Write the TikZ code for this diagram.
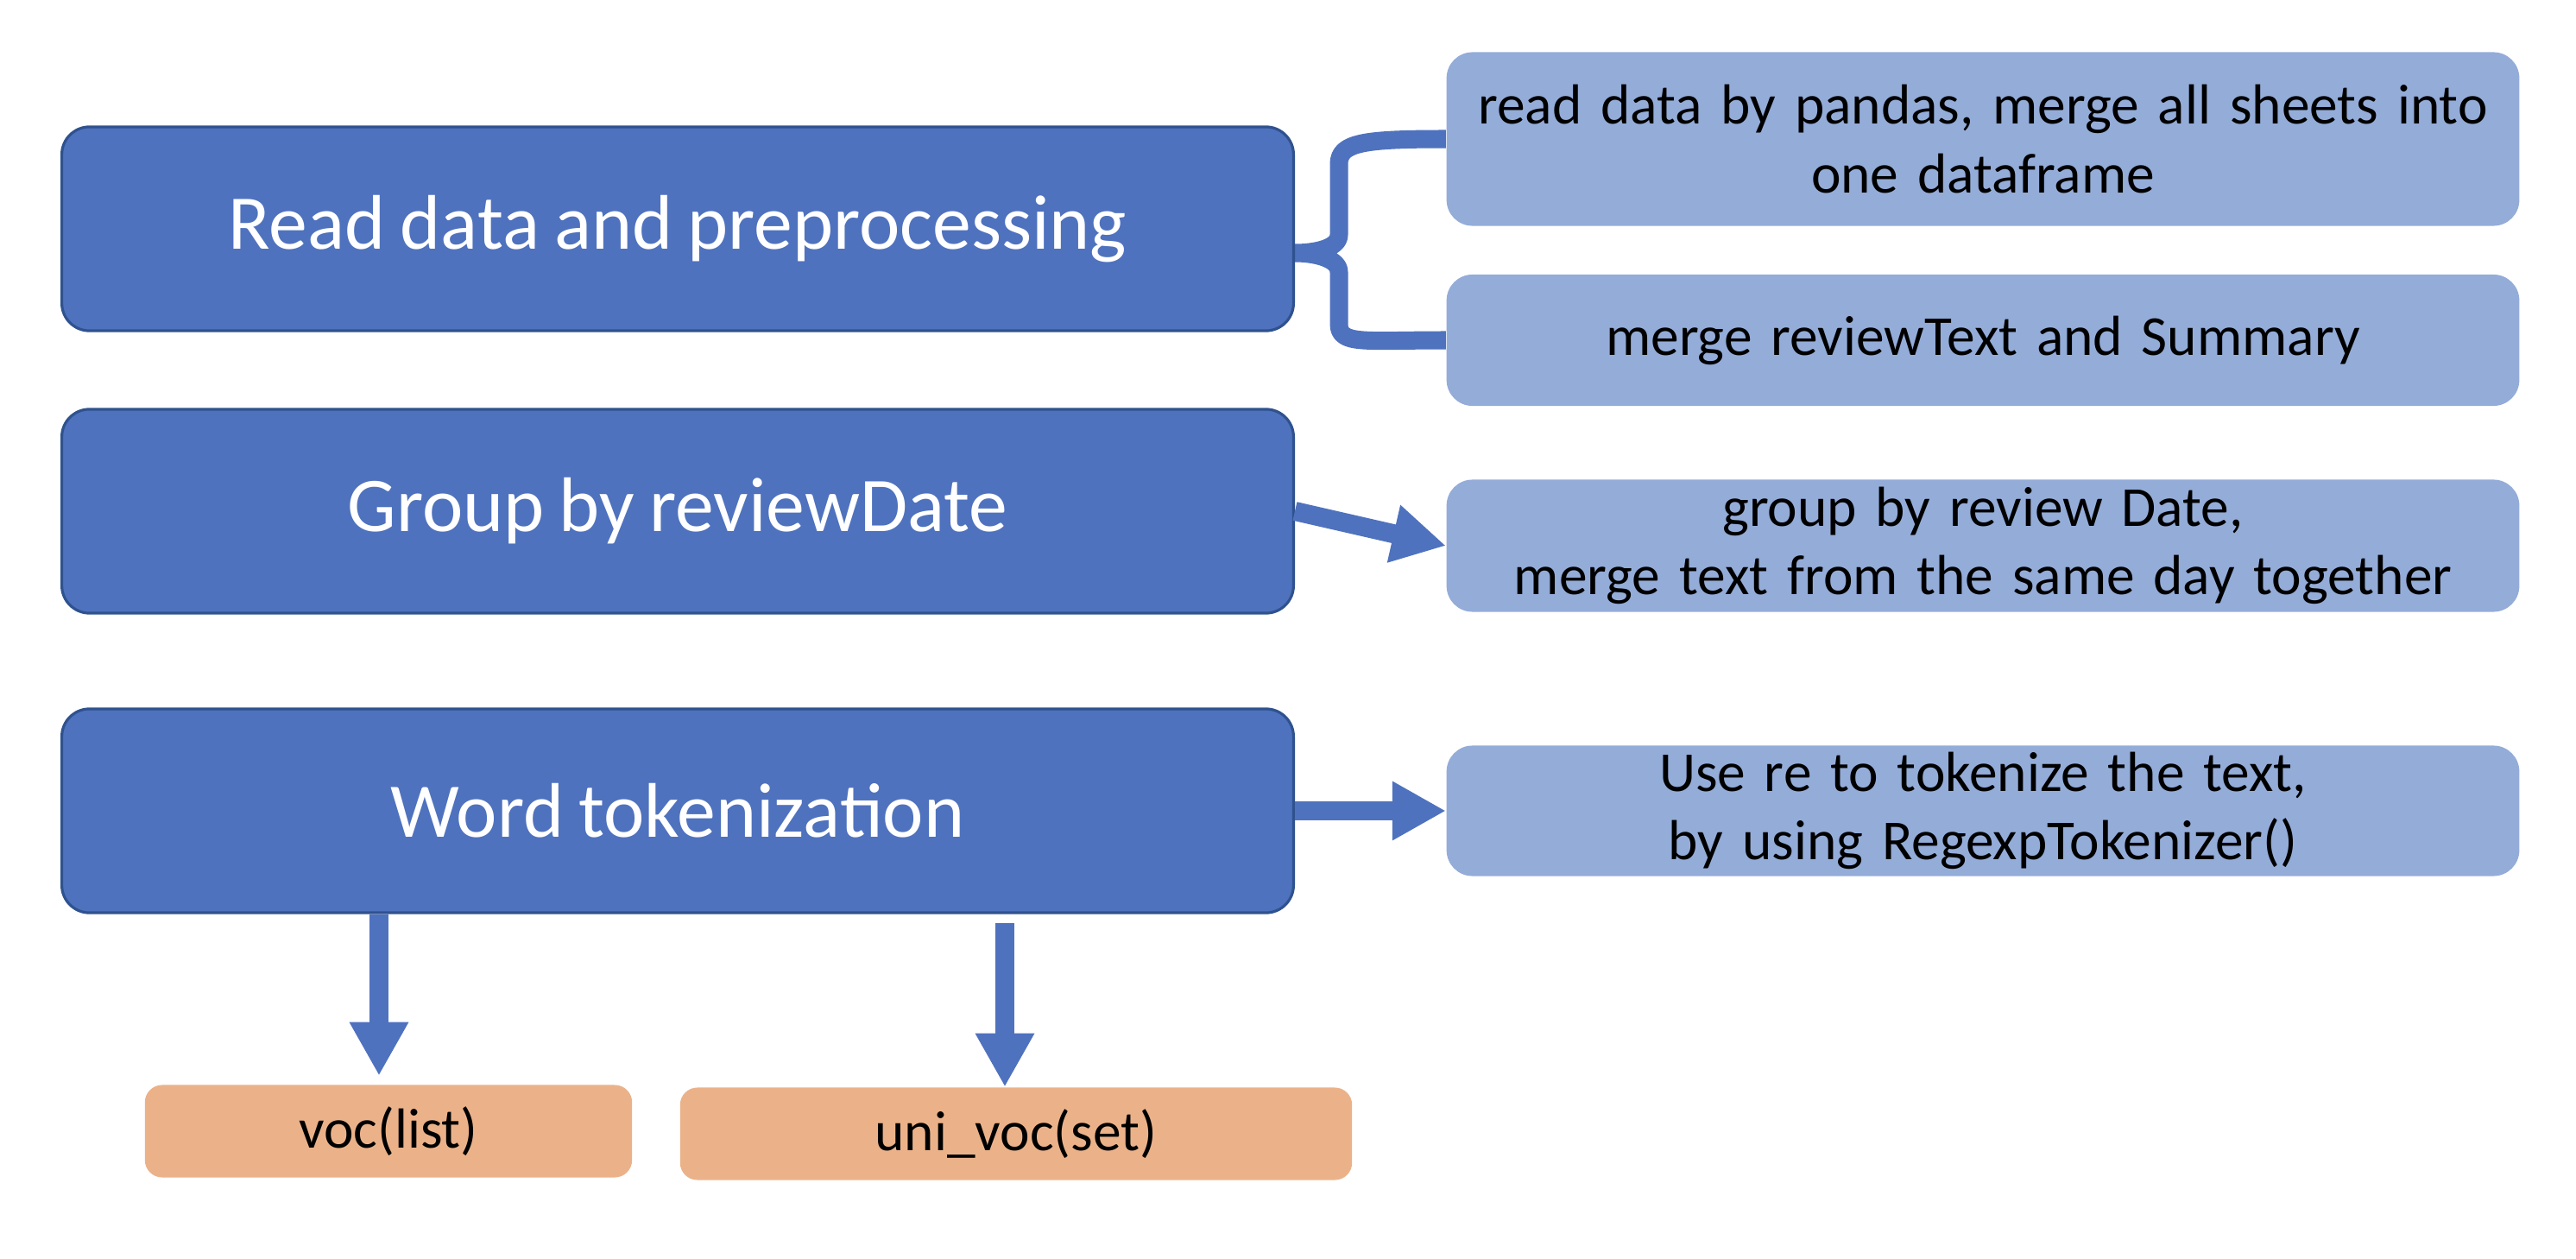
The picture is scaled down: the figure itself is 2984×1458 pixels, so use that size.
\documentclass[tikz,border=0pt]{standalone}
\usepackage{fontspec}
\setmainfont[WordSpace=0.85]{Carlito}
\usetikzlibrary{calc,arrows.meta,backgrounds}
\definecolor{bluedark}{HTML}{4F72BE}
\definecolor{blueline}{HTML}{2F528F}
\definecolor{bluelight}{HTML}{94ACD8}
\definecolor{orangelight}{HTML}{EBB28A}
\tikzset{
    bigbox/.style={draw=blueline,line width=0.9pt,fill=bluedark,rounded corners=0.32cm,minimum width=14.26cm,minimum height=2.36cm,inner sep=0pt,text=white,font=\fontsize{25.5}{30}\selectfont},
    subbox/.style={fill=bluelight,rounded corners=0.3cm,minimum width=12.42cm,text width=12cm,align=center,inner sep=0pt,font=\fontsize{18.6}{22.5}\selectfont},
    resbox/.style={fill=orangelight,rounded corners=0.2cm,minimum height=1.07cm,inner sep=0pt,font=\fontsize{18.6}{22}\selectfont},
    fatarrow/.style={draw=bluedark,line width=0.22cm,-{Triangle[length=0.62cm,width=0.64cm]}},
    brace/.style={draw=bluedark,line width=0.21cm,line join=round}
}
\begin{document}
\begin{tikzpicture}[x=0.01cm,y=-0.01cm]
    \useasboundingbox (0,0) rectangle (2984,1458);
    % ba bước chính
    \node[bigbox] (read) at (785,265) {Read data and preprocessing};
    \node[bigbox] (group) at (785,592) {Group by reviewDate};
    \node[bigbox] (word) at (785,939) {Word tokenization};
    % các ô giải thích bên phải
    \node[subbox,minimum height=2.01cm] (readA) at (2297,161) {read data by pandas, merge all sheets into\\one dataframe};
    \node[subbox,minimum height=1.52cm] (readB) at (2297,394) {merge reviewText and Summary};
    \node[subbox,minimum height=1.53cm] (groupR) at (2297,632) {group by review Date,\\merge text from the same day together};
    \node[subbox,minimum height=1.51cm] (wordR) at (2297,939) {Use re to tokenize the text,\\by using RegexpTokenizer()};
    % kết quả
    \node[resbox,minimum width=5.64cm] (voc) at (450,1310) {voc(list)};
    \node[resbox,minimum width=7.78cm] (uni) at (1177,1313) {uni\_voc(set)};
    % ngoặc nhọn
    \coordinate (tip) at ($(read.east)+(0,28)$);
    \begin{scope}[on background layer]
        \draw[brace] (readA.west) .. controls +(-95,0) and +(0,-25) .. ($(read.east)+(51,-75)$)
            -- ($(read.east)+(51,7)$) .. controls +(0,15) and +(25,0) .. (tip)
            .. controls +(25,0) and +(0,-15) .. ($(read.east)+(51,50)$)
            -- ($(read.east)+(51,110)$) .. controls +(0,25) and +(-95,0) .. (readB.west);
    \end{scope}
    % mũi tên
    \draw[fatarrow] (group.east) -- (groupR.west);
    \draw[fatarrow] (word.east) -- (wordR.west);
    \draw[fatarrow] ([xshift=-0.11cm]word.south -| voc.north) -- ([xshift=-0.11cm,yshift=0.1cm]voc.north);
    \draw[fatarrow] ([xshift=-0.13cm,yshift=-0.1cm]word.south -| uni.north) -- ([xshift=-0.13cm]uni.north);
\end{tikzpicture}
\end{document}
